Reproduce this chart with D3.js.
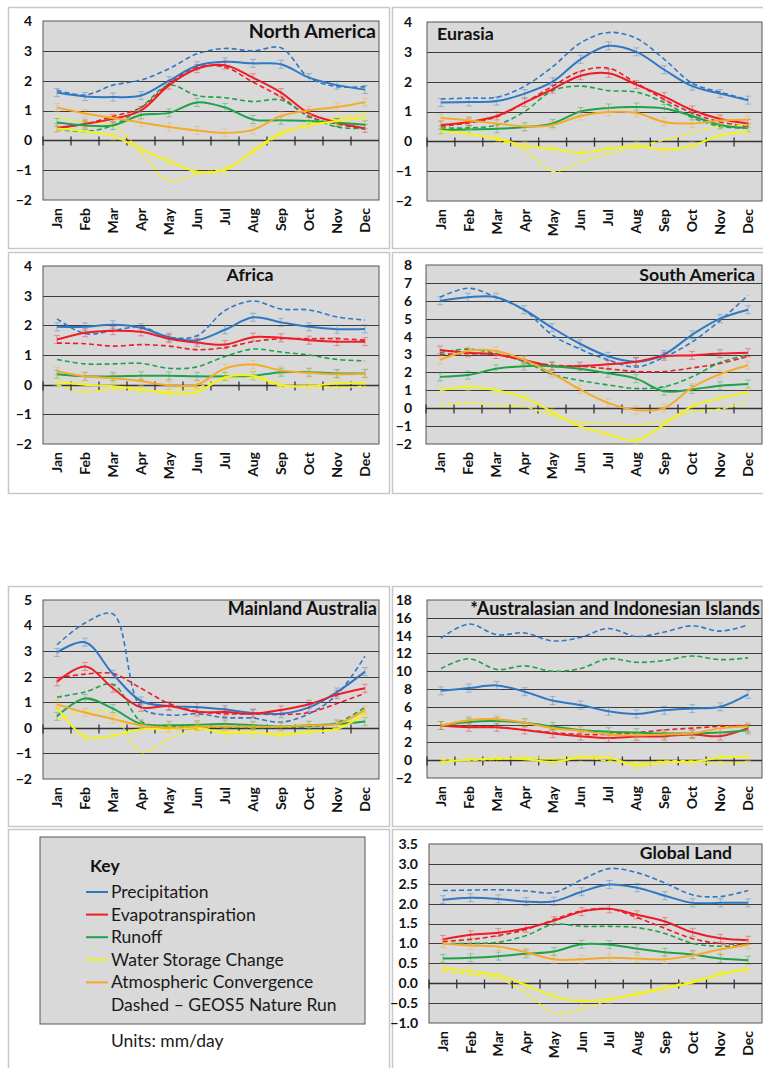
<!DOCTYPE html>
<html>
<head>
<meta charset="utf-8">
<script src="https://cdn.jsdelivr.net/npm/d3@7"></script>
<style>
  html, body { margin: 0; padding: 0; background: #fff; }
  svg { display: block; font-family: Lato, "Open Sans", sans-serif; }
</style>
</head>
<body>
<svg id="chart" width="763" height="1068"></svg>
<script>
const months = [ "Jan", "Feb", "Mar", "Apr", "May", "Jun", "Jul", "Aug", "Sep", "Oct", "Nov", "Dec" ];

// North America (solid = observed, NR = GEOS5 nature run, dashed)
const naPrecip    = [ 1.60, 1.47, 1.45, 1.50, 2.00, 2.50, 2.63, 2.58, 2.55, 2.10, 1.85, 1.70 ];
const naPrecipNR  = [ 1.68, 1.52, 1.85, 2.02, 2.40, 2.90, 3.08, 3.00, 3.10, 2.10, 1.80, 1.80 ];
const naEvap      = [ 0.42, 0.55, 0.72, 1.00, 1.85, 2.40, 2.52, 2.10, 1.60, 0.90, 0.60, 0.40 ];
const naEvapNR    = [ 0.40, 0.55, 0.80, 1.10, 1.90, 2.45, 2.45, 1.95, 1.45, 0.80, 0.55, 0.38 ];
const naRunoff    = [ 0.60, 0.50, 0.50, 0.85, 0.92, 1.27, 1.10, 0.70, 0.67, 0.65, 0.60, 0.52 ];
const naRunoffNR  = [ 0.38, 0.30, 0.50, 1.10, 1.85, 1.50, 1.43, 1.30, 1.35, 0.80, 0.45, 0.40 ];
const naStorage   = [ 0.40, 0.30, 0.15, -0.30, -0.70, -1.05, -1.00, -0.35, 0.25, 0.50, 0.65, 0.75 ];
const naStorageNR = [ 0.78, 0.62, 0.50, -0.40, -1.35, -1.10, -0.95, -0.40, 0.20, 0.55, 0.75, 0.90 ];
const naConv      = [ 1.10, 0.90, 0.75, 0.60, 0.45, 0.33, 0.25, 0.35, 0.82, 1.00, 1.12, 1.28 ];

// Eurasia
const euPrecip    = [ 1.30, 1.32, 1.35, 1.60, 2.00, 2.75, 3.20, 3.00, 2.40, 1.85, 1.60, 1.38 ];
const euPrecipNR  = [ 1.42, 1.45, 1.48, 1.85, 2.50, 3.30, 3.65, 3.45, 2.75, 1.95, 1.65, 1.40 ];
const euEvap      = [ 0.55, 0.65, 0.85, 1.30, 1.75, 2.20, 2.28, 1.90, 1.50, 1.05, 0.75, 0.60 ];
const euEvapNR    = [ 0.50, 0.62, 0.82, 1.30, 1.85, 2.35, 2.45, 1.95, 1.40, 0.95, 0.65, 0.50 ];
const euRunoff    = [ 0.38, 0.40, 0.42, 0.48, 0.60, 1.00, 1.12, 1.15, 1.10, 0.85, 0.55, 0.45 ];
const euRunoffNR  = [ 0.45, 0.45, 0.55, 1.00, 1.70, 1.85, 1.70, 1.65, 1.30, 0.80, 0.50, 0.45 ];
const euStorage   = [ 0.35, 0.25, 0.10, -0.15, -0.25, -0.38, -0.25, -0.15, -0.28, -0.15, 0.20, 0.32 ];
const euStorageNR = [ 0.40, 0.25, 0.05, -0.30, -1.00, -0.70, -0.40, -0.20, 0.05, 0.30, 0.50, 0.55 ];
const euConv      = [ 0.78, 0.70, 0.60, 0.50, 0.55, 0.85, 0.98, 0.95, 0.65, 0.60, 0.70, 0.72 ];

// Africa
const afPrecip    = [ 1.95, 1.95, 2.02, 1.92, 1.60, 1.50, 1.85, 2.27, 2.10, 1.95, 1.87, 1.88 ];
const afPrecipNR  = [ 2.22, 1.72, 1.82, 1.95, 1.60, 1.65, 2.50, 2.82, 2.55, 2.52, 2.28, 2.18 ];
const afEvap      = [ 1.52, 1.75, 1.82, 1.78, 1.55, 1.42, 1.35, 1.60, 1.58, 1.50, 1.45, 1.45 ];
const afEvapNR    = [ 1.40, 1.38, 1.30, 1.35, 1.30, 1.18, 1.25, 1.45, 1.55, 1.55, 1.55, 1.50 ];
const afRunoff    = [ 0.35, 0.28, 0.28, 0.30, 0.30, 0.28, 0.28, 0.30, 0.42, 0.42, 0.38, 0.38 ];
const afRunoffNR  = [ 0.85, 0.70, 0.70, 0.72, 0.55, 0.60, 0.95, 1.20, 1.10, 1.00, 0.85, 0.80 ];
const afStorage   = [ 0.10, 0.00, -0.05, -0.15, -0.30, -0.25, 0.25, 0.30, 0.00, -0.05, 0.05, 0.05 ];
const afStorageNR = [ 0.00, -0.25, -0.15, -0.20, -0.20, -0.10, 0.20, 0.25, -0.05, -0.05, -0.10, -0.05 ];
const afConv      = [ 0.45, 0.28, 0.22, 0.12, -0.02, 0.00, 0.55, 0.68, 0.48, 0.40, 0.35, 0.37 ];

// South America
const saPrecip    = [ 6.00, 6.20, 6.20, 5.50, 4.50, 3.60, 2.90, 2.60, 3.00, 4.10, 5.00, 5.50 ];
const saPrecipNR  = [ 6.20, 6.70, 6.20, 5.50, 4.10, 3.30, 2.70, 2.30, 2.85, 3.70, 4.90, 6.30 ];
const saEvap      = [ 3.25, 3.10, 3.00, 2.70, 2.35, 2.35, 2.45, 2.60, 2.90, 2.95, 3.05, 3.10 ];
const saEvapNR    = [ 3.00, 3.05, 3.00, 2.65, 2.40, 2.35, 2.20, 2.05, 2.05, 2.25, 2.50, 2.90 ];
const saRunoff    = [ 1.75, 1.85, 2.20, 2.35, 2.35, 2.20, 1.95, 1.65, 0.95, 1.05, 1.25, 1.35 ];
const saRunoffNR  = [ 3.10, 3.30, 3.05, 2.60, 1.90, 1.55, 1.30, 1.10, 1.20, 1.75, 2.55, 3.00 ];
const saStorage   = [ 1.00, 1.20, 1.00, 0.60, -0.20, -1.00, -1.45, -1.80, -0.90, 0.10, 0.55, 0.90 ];
const saStorageNR = [ 0.15, 0.30, 0.15, 0.10, -0.40, -0.80, -0.85, -0.95, -0.70, -0.20, -0.05, 0.35 ];
const saConv      = [ 2.70, 3.20, 3.20, 2.70, 1.95, 1.05, 0.30, -0.10, 0.00, 1.15, 1.90, 2.40 ];

// Mainland Australia
const auPrecip    = [ 2.95, 3.35, 2.10, 1.05, 0.85, 0.82, 0.72, 0.58, 0.55, 0.80, 1.40, 2.20 ];
const auPrecipNR  = [ 3.25, 4.10, 4.45, 0.80, 0.50, 0.55, 0.40, 0.38, 0.22, 0.55, 1.30, 2.80 ];
const auEvap      = [ 1.80, 2.40, 1.55, 0.80, 0.85, 0.62, 0.62, 0.55, 0.70, 0.92, 1.30, 1.55 ];
const auEvapNR    = [ 1.95, 2.10, 2.12, 1.55, 0.95, 0.65, 0.55, 0.55, 0.52, 0.60, 0.95, 1.35 ];
const auRunoff    = [ 0.45, 1.15, 0.75, 0.15, 0.10, 0.12, 0.15, 0.10, 0.05, 0.10, 0.15, 0.25 ];
const auRunoffNR  = [ 1.20, 1.40, 1.70, 0.25, 0.05, 0.05, 0.02, 0.02, 0.02, 0.05, 0.20, 0.80 ];
const auStorage   = [ 0.80, -0.35, -0.30, -0.05, -0.05, 0.00, -0.20, -0.18, -0.25, -0.15, -0.05, 0.55 ];
const auStorageNR = [ 0.30, 0.65, 0.55, -0.95, -0.45, -0.05, -0.15, -0.15, -0.30, -0.15, 0.00, 0.70 ];
const auConv      = [ 0.92, 0.60, 0.35, 0.10, 0.00, 0.05, 0.05, 0.05, 0.05, 0.10, 0.15, 0.70 ];

// *Australasian and Indonesian Islands
const aiPrecip    = [ 7.80, 8.10, 8.40, 7.70, 6.70, 6.20, 5.50, 5.20, 5.60, 5.80, 6.00, 7.40 ];
const aiPrecipNR  = [ 13.7, 15.3, 14.1, 14.3, 13.4, 13.8, 14.8, 13.9, 14.4, 15.1, 14.5, 15.2 ];
const aiEvap      = [ 3.90, 3.70, 3.70, 3.40, 3.00, 2.70, 2.50, 2.65, 2.70, 2.90, 2.70, 3.60 ];
const aiEvapNR    = [ 3.90, 3.80, 3.70, 3.40, 3.10, 2.90, 2.90, 3.10, 3.40, 3.60, 3.80, 3.90 ];
const aiRunoff    = [ 3.90, 4.30, 4.40, 4.20, 3.80, 3.40, 3.20, 3.10, 3.00, 3.00, 3.10, 3.40 ];
const aiRunoffNR  = [ 10.3, 11.4, 10.2, 10.6, 10.0, 10.3, 11.4, 11.0, 11.2, 11.7, 11.3, 11.5 ];
const aiStorage   = [ -0.20, 0.05, 0.20, 0.10, -0.20, 0.30, 0.30, -0.60, -0.20, -0.20, 0.30, 0.40 ];
const aiStorageNR = [ 0.05, 0.00, 0.10, 0.30, 0.20, 0.35, -0.10, -0.30, -0.10, -0.10, -0.40, -0.20 ];
const aiConv      = [ 3.90, 4.50, 4.60, 4.20, 3.60, 3.30, 2.90, 2.80, 2.90, 3.00, 3.60, 3.80 ];

// Global Land
const glPrecip    = [ 2.10, 2.15, 2.12, 2.05, 2.06, 2.30, 2.48, 2.40, 2.20, 2.02, 2.02, 2.02 ];
const glPrecipNR  = [ 2.33, 2.34, 2.35, 2.32, 2.28, 2.60, 2.88, 2.78, 2.52, 2.22, 2.18, 2.33 ];
const glEvap      = [ 1.10, 1.22, 1.27, 1.38, 1.57, 1.80, 1.87, 1.72, 1.55, 1.28, 1.13, 1.08 ];
const glEvapNR    = [ 1.05, 1.10, 1.20, 1.35, 1.60, 1.82, 1.87, 1.65, 1.38, 1.12, 1.00, 0.98 ];
const glRunoff    = [ 0.62, 0.64, 0.68, 0.74, 0.80, 0.98, 0.97, 0.87, 0.78, 0.72, 0.62, 0.58 ];
const glRunoffNR  = [ 1.00, 1.00, 1.03, 1.20, 1.48, 1.43, 1.43, 1.40, 1.25, 1.00, 0.93, 0.97 ];
const glStorage   = [ 0.38, 0.30, 0.20, -0.05, -0.33, -0.45, -0.40, -0.28, -0.13, 0.02, 0.22, 0.35 ];
const glStorageNR = [ 0.30, 0.22, 0.12, -0.25, -0.75, -0.65, -0.42, -0.25, -0.10, 0.05, 0.25, 0.38 ];
const glConv      = [ 1.00, 0.95, 0.92, 0.78, 0.60, 0.60, 0.64, 0.62, 0.60, 0.70, 0.85, 0.97 ];

const keyLabels = [ "Precipitation", "Evapotranspiration", "Runoff", "Water Storage Change", "Atmospheric Convergence" ];
const colors = [ "#2f78c4", "#ee1c24", "#1fa34a", "#f4f21c", "#f5ab2a" ];

const svg = d3.select( "#chart" );

// panel layout
const panels = [
  { title: "North America", box: [ 8, 7, 389, 248 ], px: [ 43, 379 ], py: [ 200, 21 ], dom: [ -2, 4 ], step: 1, fmt: d3.format( "d" ),
    tx: 376, ty: 38, anchor: "end", tsize: 19.5, lx: 32,
    solid: [ naPrecip, naEvap, naRunoff, naStorage, naConv ], dashed: [ naPrecipNR, naEvapNR, naRunoffNR, naStorageNR, null ] },
  { title: "Eurasia", box: [ 392, 7, 775, 248 ], px: [ 427, 762 ], py: [ 201, 22 ], dom: [ -2, 4 ], step: 1, fmt: d3.format( "d" ),
    tx: 437, ty: 40, anchor: "start", tsize: 17.8, lx: 412,
    solid: [ euPrecip, euEvap, euRunoff, euStorage, euConv ], dashed: [ euPrecipNR, euEvapNR, euRunoffNR, euStorageNR, null ] },
  { title: "Africa", box: [ 8, 252, 389, 493 ], px: [ 43, 379 ], py: [ 444, 266 ], dom: [ -2, 4 ], step: 1, fmt: d3.format( "d" ),
    tx: 250, ty: 281, anchor: "middle", tsize: 17.8, lx: 32,
    solid: [ afPrecip, afEvap, afRunoff, afStorage, afConv ], dashed: [ afPrecipNR, afEvapNR, afRunoffNR, afStorageNR, null ] },
  { title: "South America", box: [ 392, 252, 775, 493 ], px: [ 426, 762 ], py: [ 444, 265 ], dom: [ -2, 8 ], step: 1, fmt: d3.format( "d" ),
    tx: 755, ty: 281, anchor: "end", tsize: 17.8, lx: 412,
    solid: [ saPrecip, saEvap, saRunoff, saStorage, saConv ], dashed: [ saPrecipNR, saEvapNR, saRunoffNR, saStorageNR, null ] },
  { title: "Mainland Australia", box: [ 8, 586, 389, 826 ], px: [ 43, 379 ], py: [ 779, 600 ], dom: [ -2, 5 ], step: 1, fmt: d3.format( "d" ),
    tx: 377, ty: 615, anchor: "end", tsize: 18, lx: 32,
    solid: [ auPrecip, auEvap, auRunoff, auStorage, auConv ], dashed: [ auPrecipNR, auEvapNR, auRunoffNR, auStorageNR, null ] },
  { title: "*Australasian and Indonesian Islands", box: [ 392, 586, 775, 826 ], px: [ 427, 762 ], py: [ 778, 600 ], dom: [ -2, 18 ], step: 2, fmt: d3.format( "d" ),
    tx: 760, ty: 615, anchor: "end", tsize: 18, lx: 412,
    solid: [ aiPrecip, aiEvap, aiRunoff, aiStorage, aiConv ], dashed: [ aiPrecipNR, aiEvapNR, aiRunoffNR, aiStorageNR, null ] },
  { title: "Global Land", box: [ 392, 829, 775, 1075 ], px: [ 429, 762 ], py: [ 1023, 844 ], dom: [ -1, 3.5 ], step: 0.5, fmt: d3.format( ".1f" ),
    tx: 732, ty: 859, anchor: "end", tsize: 17.5, lx: 418,
    solid: [ glPrecip, glEvap, glRunoff, glStorage, glConv ], dashed: [ glPrecipNR, glEvapNR, glRunoffNR, glStorageNR, null ] },
];

const drawPanel = p => {
  const g = svg.append( "g" );

  g.append( "rect" )
    .attr( "x", p.box[0] + 0.5 ).attr( "y", p.box[1] + 0.5 )
    .attr( "width", p.box[2] - p.box[0] ).attr( "height", p.box[3] - p.box[1] )
    .attr( "fill", "#fff" ).attr( "stroke", "#c8c8c8" ).attr( "stroke-width", 1.5 );

  const x = d3.scaleBand().domain( months ).range( p.px );
  const y = d3.scaleLinear().domain( p.dom ).range( p.py );
  const ticks = d3.range( p.dom[0], p.dom[1] + p.step / 2, p.step );

  g.append( "rect" )
    .attr( "x", p.px[0] ).attr( "y", p.py[1] )
    .attr( "width", p.px[1] - p.px[0] ).attr( "height", p.py[0] - p.py[1] )
    .attr( "fill", "#d9d9d9" ).attr( "stroke", "#555" ).attr( "stroke-width", 1 );

  // gridlines
  g.selectAll( ".grid" )
    .data( ticks.filter( t => t > p.dom[0] && t < p.dom[1] ) )
    .enter()
    .append( "line" )
    .attr( "x1", p.px[0] ).attr( "x2", p.px[1] )
    .attr( "y1", d => Math.round( y( d ) ) + 0.5 ).attr( "y2", d => Math.round( y( d ) ) + 0.5 )
    .attr( "stroke", d => d === 0 ? "#333" : "#3c3c3c" )
    .attr( "stroke-width", d => d === 0 ? 1.4 : 1 );

  // month ticks on the zero line
  const y0 = Math.round( y( 0 ) ) + 0.5;
  g.selectAll( ".mtick" )
    .data( months )
    .enter()
    .append( "line" )
    .attr( "x1", d => x( d ) ).attr( "x2", d => x( d ) )
    .attr( "y1", y0 - 4 ).attr( "y2", y0 + 5 )
    .attr( "stroke", "#333" ).attr( "stroke-width", 1.3 );

  // y labels
  g.selectAll( ".ylab" )
    .data( ticks )
    .enter()
    .append( "text" )
    .attr( "x", p.lx ).attr( "y", d => y( d ) )
    .attr( "dy", "0.35em" )
    .attr( "text-anchor", "end" )
    .attr( "font-size", 14 ).attr( "font-weight", 700 ).attr( "fill", "#111" )
    .text( d => p.fmt( d ) );

  // month labels
  g.selectAll( ".xlab" )
    .data( months )
    .enter()
    .append( "text" )
    .attr( "transform", d => `translate(${x( d ) + x.bandwidth() / 2},${p.py[0] + 8}) rotate(-90)` )
    .attr( "dy", "0.35em" )
    .attr( "text-anchor", "end" )
    .attr( "font-size", 14 ).attr( "font-weight", 700 ).attr( "fill", "#111" )
    .text( d => d );

  const line = d3.line()
    .x( ( d, i ) => x( months[i] ) + x.bandwidth() / 2 )
    .y( d => y( d ) )
    .curve( d3.curveCatmullRom.alpha( 0.5 ) );

  p.dashed.forEach( ( s, k ) => {
    if ( !s ) return;
    g.append( "path" )
      .attr( "d", line( s ) )
      .attr( "fill", "none" )
      .attr( "stroke", colors[k] )
      .attr( "stroke-width", 1.6 )
      .attr( "stroke-dasharray", "5,3" );
  } );

  p.solid.forEach( ( s, k ) => {
    // faint error whiskers
    const eb = g.append( "g" ).attr( "stroke", colors[k] ).attr( "stroke-opacity", 0.4 ).attr( "stroke-width", 1 );
    s.forEach( ( v, i ) => {
      const cx = x( months[i] ) + x.bandwidth() / 2;
      const cy = y( v );
      eb.append( "line" ).attr( "x1", cx ).attr( "x2", cx ).attr( "y1", cy - 4 ).attr( "y2", cy + 4 );
      eb.append( "line" ).attr( "x1", cx - 3 ).attr( "x2", cx + 3 ).attr( "y1", cy - 4 ).attr( "y2", cy - 4 );
      eb.append( "line" ).attr( "x1", cx - 3 ).attr( "x2", cx + 3 ).attr( "y1", cy + 4 ).attr( "y2", cy + 4 );
    } );
    g.append( "path" )
      .attr( "d", line( s ) )
      .attr( "fill", "none" )
      .attr( "stroke", colors[k] )
      .attr( "stroke-width", 2 );
  } );

  g.append( "text" )
    .attr( "x", p.tx ).attr( "y", p.ty )
    .attr( "text-anchor", p.anchor )
    .attr( "font-size", p.tsize ).attr( "font-weight", 700 ).attr( "fill", "#111" )
    .text( p.title );
};

panels.forEach( drawPanel );

// key panel
const key = svg.append( "g" );
key.append( "rect" )
  .attr( "x", 8.5 ).attr( "y", 829.5 ).attr( "width", 381 ).attr( "height", 245 )
  .attr( "fill", "#fff" ).attr( "stroke", "#c8c8c8" ).attr( "stroke-width", 1.5 );
key.append( "rect" )
  .attr( "x", 40 ).attr( "y", 837 ).attr( "width", 325 ).attr( "height", 187 )
  .attr( "fill", "#d9d9d9" ).attr( "stroke", "#555" ).attr( "stroke-width", 1 );
key.append( "text" )
  .attr( "x", 90 ).attr( "y", 872 )
  .attr( "font-size", 17.5 ).attr( "font-weight", 700 ).attr( "fill", "#111" )
  .text( "Key" );

const rowY = d3.scalePoint().domain( d3.range( keyLabels.length + 1 ) ).range( [ 898, 1011 ] );
keyLabels.forEach( ( lab, i ) => {
  key.append( "line" )
    .attr( "x1", 86 ).attr( "x2", 108 )
    .attr( "y1", rowY( i ) - 6 ).attr( "y2", rowY( i ) - 6 )
    .attr( "stroke", colors[i] ).attr( "stroke-width", 2 );
  key.append( "text" )
    .attr( "x", 111 ).attr( "y", rowY( i ) )
    .attr( "font-size", 17.5 ).attr( "fill", "#1a1a1a" )
    .text( lab );
} );
key.append( "text" )
  .attr( "x", 111 ).attr( "y", rowY( keyLabels.length ) )
  .attr( "font-size", 17.5 ).attr( "fill", "#1a1a1a" )
  .text( "Dashed \u2013 GEOS5 Nature Run" );
key.append( "text" )
  .attr( "x", 111 ).attr( "y", 1047 )
  .attr( "font-size", 17.5 ).attr( "fill", "#1a1a1a" )
  .text( "Units: mm/day" );
</script>
</body>
</html>
